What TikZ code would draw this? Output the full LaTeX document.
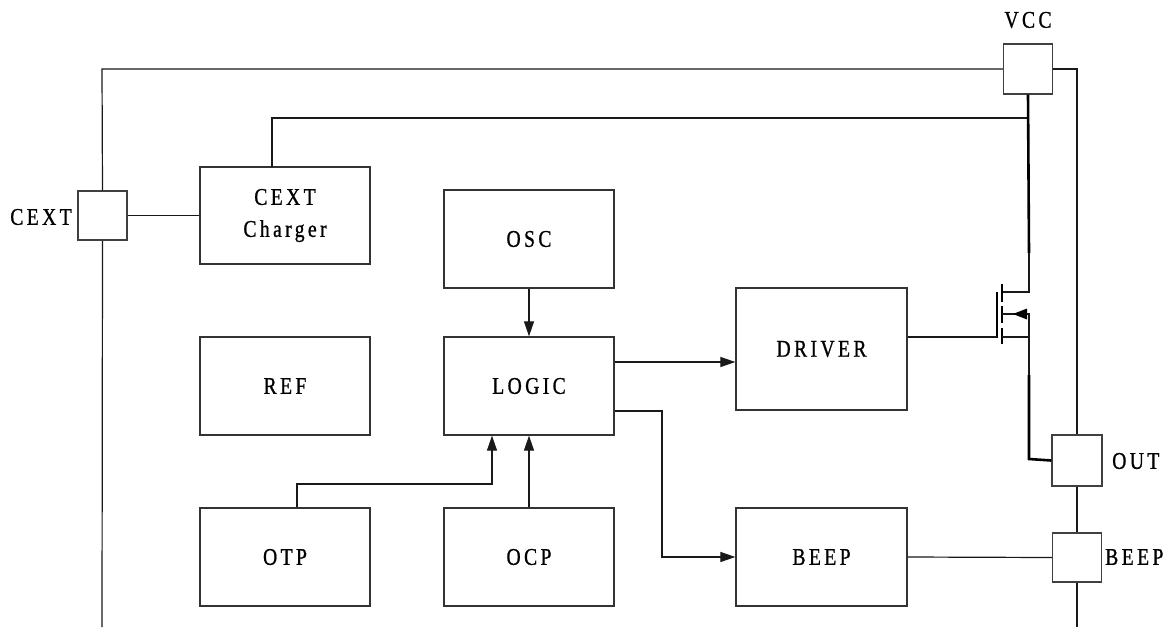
\documentclass[tikz,border=0pt]{standalone}
\usepackage{fontspec}
\setmainfont{Liberation Serif}[FakeStretch=0.82,LetterSpace=14,FakeBold=0.8]
\usetikzlibrary{arrows.meta}
\newcommand{\lbl}{\fontsize{24}{32}\selectfont}
\tikzset{
  blk/.style={draw=black!80, line width=1.3pt, fill=white, minimum width=170pt, minimum height=98pt, inner sep=0pt, font=\lbl, align=center},
  pinbox/.style={draw=black!75, line width=1.3pt, fill=white, minimum width=49pt, minimum height=49pt, inner sep=0pt},
  wire/.style={line width=1.2pt, black!90},
  thickwire/.style={line width=2.6pt, black},
  sig/.style={line width=1.2pt, black!90, -{Triangle[length=15pt,width=10pt]}},
  txt/.style={font=\lbl, inner sep=0pt}
}
\begin{document}
\begin{tikzpicture}[x=1pt,y=-1pt]
\useasboundingbox (0,0) rectangle (1167,627);
% blocks
\node[blk, minimum height=97pt] (chg) at (285,215.5) {CEXT\\Charger};
\node[blk] (osc) at (529,239) {OSC};
\node[blk] (logic) at (529,386) {LOGIC};
\node[blk] (ref) at (285,386) {REF};
\node[blk, minimum width=171pt, minimum height=122pt] (drv) at (821.5,349) {DRIVER};
\node[blk] (otp) at (285,557) {OTP};
\node[blk] (ocp) at (529,557) {OCP};
\node[blk, minimum width=171pt] (beep) at (821.5,557) {BEEP};
% pins
\node[pinbox, minimum height=50pt] (vcc) at (1028,69) {};
\node[pinbox] (cext) at (102.5,215.5) {};
\node[pinbox, minimum width=50pt, minimum height=51pt] (out) at (1077,460.5) {};
\node[pinbox] (bpin) at (1077,557.5) {};
% pin labels
\node[txt] (lvcc) at (1028,20) {VCC};
\node[txt] (lcext) at (41,217) {CEXT};
\node[txt, anchor=west] (lout) at (1112,461) {OUT};
\node[txt, anchor=west] (lbeep) at (1105,557) {BEEP};
% coordinates
\coordinate (tl) at (102,69);
\coordinate (tr) at (1077,69);
\coordinate (bl) at (102,627);
\coordinate (br) at (1077,627);
\coordinate (chgtop) at (272,167);
\coordinate (chgbus) at (272,118);
\coordinate (vbus) at (1029,118);
\coordinate (vthk) at (1029,253);
\coordinate (dj) at (1029,292);
\coordinate (dch) at (1002,292);
\coordinate (gtop) at (997,292);
\coordinate (gbot) at (997,338);
\coordinate (gin) at (997,337);
\coordinate (sch) at (1002,314);
\coordinate (sj) at (1029,314);
\coordinate (bj) at (1029,337);
\coordinate (bch) at (1002,337);
\coordinate (sthk) at (1029,375);
\coordinate (scorner) at (1029,459);
\coordinate (lbk) at (662,411);
\coordinate (lbk2) at (662,557);
\coordinate (otpk) at (297,484);
\coordinate (otpk2) at (492,484);
% frame
\draw[wire] (cext.north) -- (tl) -- (vcc.west);
\draw[wire] (vcc.east) -- (tr) -- (out.north);
\draw[wire] (out.south) -- (bpin.north);
\draw[wire] (bpin.south) -- (br);
\draw[wire] (cext.south) -- (bl);
\draw[wire] (cext.east) -- (chg.west);
% charger supply
\draw[wire] (chgtop) -- (chgbus) -- (vbus);
% MOSFET
\draw[thickwire] (vcc.south) -- (vthk);
\draw[wire] (vthk) -- (dj) -- (dch);
\draw[line width=1.4pt] (1002,284) -- (1002,302);
\draw[line width=1.4pt] (1002,306) -- (1002,323);
\draw[line width=1.4pt] (1002,328) -- (1002,344);
\draw[line width=1.4pt] (gtop) -- (gbot);
\draw[wire] (drv.east |- gin) -- (gin);
\draw[wire] (sch) -- (sj) -- (bj) -- (bch);
\fill (1013,314) -- (1027,308.5) -- (1027,319.5) -- cycle;
\draw[wire] (bj) -- (sthk);
\draw[thickwire, line join=miter] (sthk) -- (scorner) -- (out.west);
% signals
\draw[sig] (osc.south) -- (logic.north);
\draw[sig] (logic.east |- 0,362) -- (drv.west |- 0,362);
\draw[sig] (logic.east |- lbk) -- (lbk) -- (lbk2) -- (beep.west);
\draw[sig] (otp.north -| otpk) -- (otpk) -- (otpk2) -- (logic.south -| otpk2);
\draw[sig] (ocp.north) -- (logic.south);
\draw[wire] (beep.east) -- (bpin.west);
\end{tikzpicture}
\end{document}
